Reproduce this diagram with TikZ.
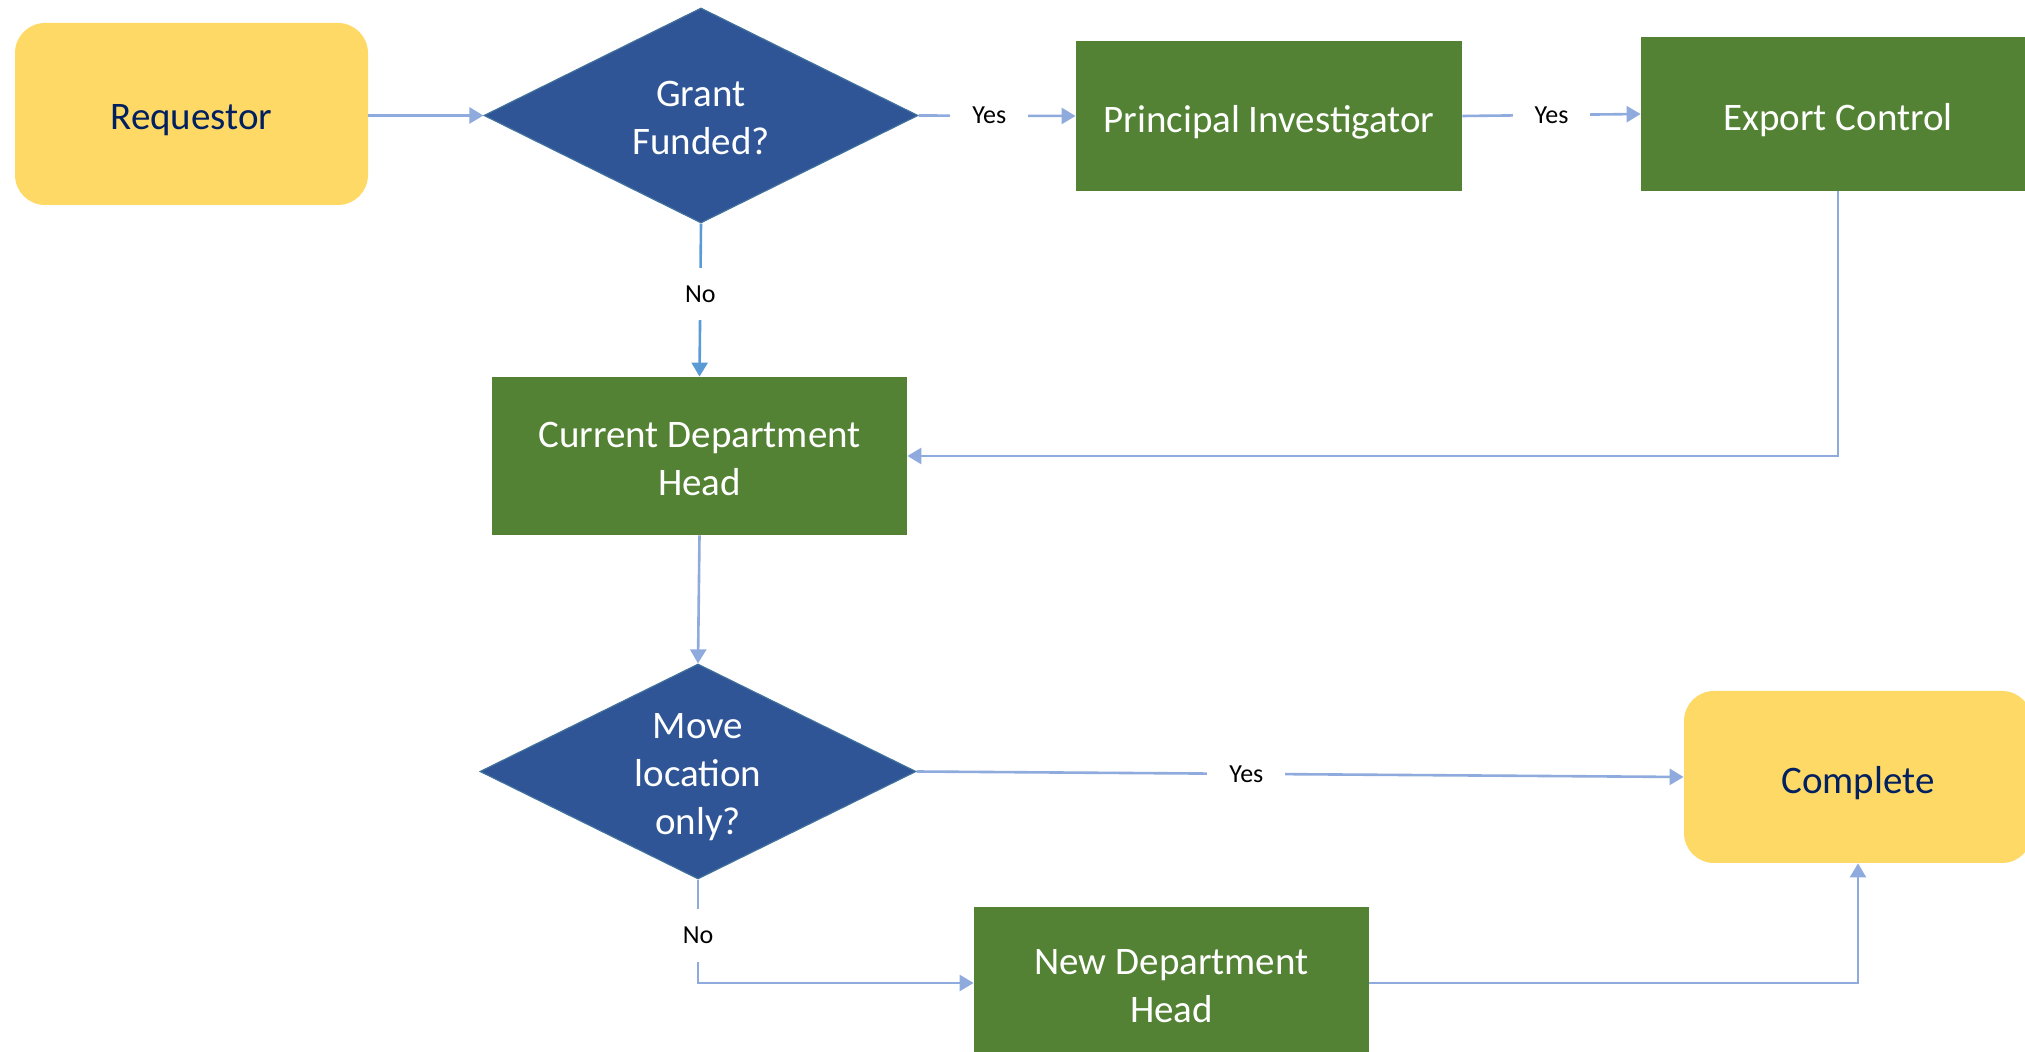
\documentclass[tikz,border=0pt]{standalone}
\usepackage{fontspec}
\setmainfont{Carlito}
\usetikzlibrary{shapes.geometric,arrows.meta}
\definecolor{goldfill}{HTML}{FFD966}
\definecolor{navytext}{HTML}{002060}
\definecolor{greenfill}{HTML}{548235}
\definecolor{bluefill}{HTML}{2F5597}
\definecolor{blueedge}{HTML}{41719C}
\definecolor{linkcol}{HTML}{8FAADC}
\definecolor{linkcoltwo}{HTML}{5B9BD5}
\tikzset{
  bigtext/.style={align=center, font=\fontsize{19.5pt}{24pt}\selectfont, inner sep=0pt},
  terminal/.style={rectangle, rounded corners=15pt, fill=goldfill, inner sep=0pt},
  stepbox/.style={rectangle, fill=greenfill, inner sep=0pt},
  decision/.style={diamond, fill=bluefill, draw=blueedge, line width=0.6pt, inner sep=0pt},
  navytxt/.style={bigtext, text=navytext},
  whitetxt/.style={bigtext, text=white},
  arr/.style={draw=linkcol, line width=1.3pt, -{Triangle[length=7pt,width=8pt]}},
  lbl/.style={fill=white, text=black, font=\fontsize{13pt}{15pt}\selectfont, inner xsep=11pt, inner ysep=9pt}
}
\begin{document}
\begin{tikzpicture}[x=0.5pt,y=-0.5pt]
\useasboundingbox (0,0) rectangle (2025,1052);
\clip (0,0) rectangle (2025,1052);

\node[terminal, minimum width=176.5pt, minimum height=91pt] (req) at (191.5,114) {};
\node[navytxt, yshift=-3.2pt] (reqtext) at (req.center) {Requestor};

\node[decision, minimum width=217pt, minimum height=107.5pt] (grant) at (701,115.5) {};
\node[whitetxt, yshift=-1.3pt] (granttext) at (grant.center) {Grant\\Funded?};

\node[stepbox, minimum width=193pt, minimum height=75pt] (pi) at (1269,116) {};
\node[whitetxt, yshift=-3.2pt] (pitext) at (pi.center) {Principal Investigator};

\node[stepbox, minimum width=197pt, minimum height=77pt] (ec) at (1838,114) {};
\node[whitetxt, yshift=-3.2pt] (ectext) at (ec.center) {Export Control};

\node[stepbox, minimum width=207.5pt, minimum height=79pt] (cdh) at (699.5,456) {};
\node[whitetxt, yshift=-1.4pt] (cdhtext) at (cdh.center) {Current Department\\Head};

\node[decision, minimum width=218pt, minimum height=107.5pt] (move) at (698,771.5) {};
\node[whitetxt, yshift=-3pt] (movetext) at (move.center) {Move\\location\\only?};

\node[terminal, minimum width=174pt, minimum height=86pt] (comp) at (1858,777) {};
\node[navytxt, yshift=-3.2pt] (comptext) at (comp.center) {Complete};

\node[stepbox, minimum width=197.5pt, minimum height=76pt] (ndh) at (1171.5,983) {};
\node[whitetxt, yshift=-1.4pt] (ndhtext) at (ndh.center) {New Department\\Head};

\draw[arr] (req.east |- grant.west) -- (grant.west);
\draw[arr] (grant.east) -- node[lbl, pos=0.45]{Yes} (pi.west);
\draw[arr] (pi.east) -- node[lbl]{Yes} (ec.west);
\draw[arr] (ec.south) -- (ec.south |- cdh.east) -- (cdh.east);
\draw[arr, draw=linkcoltwo] (grant.south) -- node[lbl, pos=0.46]{No} (cdh.north);
\draw[arr] (cdh.south) -- (move.north);
\draw[arr] (move.east) -- node[lbl, pos=0.43]{Yes} (comp.west);
\draw[arr] (move.south) -- node[lbl, pos=0.54]{No} (move.south |- ndh.west) -- (ndh.west);
\draw[arr] (ndh.east) -| (comp.south);
\end{tikzpicture}
\end{document}
